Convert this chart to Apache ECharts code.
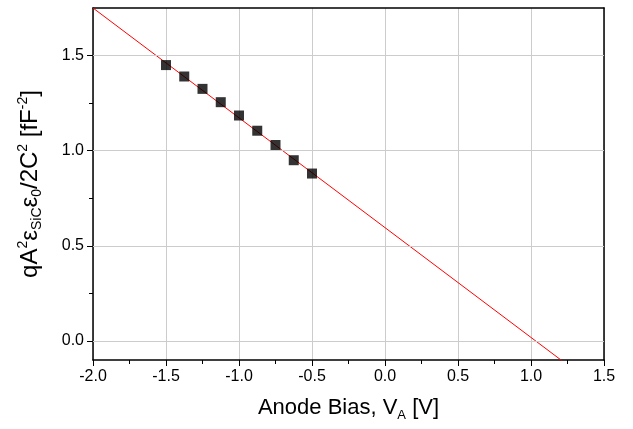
<!DOCTYPE html>
<html>
<head>
<meta charset="utf-8" />
<title>Anode bias plot</title>
<script src="https://cdn.jsdelivr.net/npm/echarts@6/dist/echarts.min.js"></script>
<style>
  html, body { margin: 0; padding: 0; background: #fff; }
  #chart { width: 633px; height: 429px; }
</style>
</head>
<body>
<div id="chart"></div>
<script>
// measured points
var biasV = [-1.5, -1.375, -1.25, -1.125, -1.0, -0.875, -0.75, -0.625, -0.5];
var capVals = [1.45, 1.39, 1.325, 1.255, 1.185, 1.105, 1.03, 0.95, 0.88];
// fitted line end points
var fitX = [-2.0, 1.5];
var fitY = [1.75, -0.27];
var yTicks = [0, 0.5, 1.0, 1.5];
var yMinor = [0.25, 0.75, 1.25];

var font = 'Liberation Sans, Arial, sans-serif';

var scatterData = [];
for (var i = 0; i < biasV.length; i++) scatterData.push([biasV[i], capVals[i]]);
var fitData = [];
for (var j = 0; j < fitX.length; j++) fitData.push([fitX[j], fitY[j]]);
var gridLines = yTicks.map(function (v) { return { yAxis: v }; });

var chart = echarts.init(document.getElementById('chart'));
var option = {
  animation: false,
  backgroundColor: '#fff',
  grid: { left: 93, right: 29, top: 8, bottom: 69, containLabel: false },
  xAxis: [{
    type: 'value', min: -2, max: 1.5, interval: 0.5,
    name: '{n|Anode Bias, V}{sub|A}{n| [V]}',
    nameLocation: 'middle', nameGap: 33,
    nameTextStyle: {
      rich: {
        n: { fontSize: 22, fontFamily: font, color: '#000' },
        sub: { fontSize: 13, fontFamily: font, color: '#000', verticalAlign: 'bottom', padding: [16, 0, 0, 0] }
      }
    },
    axisLine: { onZero: false, lineStyle: { color: '#000', width: 1.5 } },
    axisTick: { inside: false, length: 6, lineStyle: { color: '#000' } },
    minorTick: { show: true, splitNumber: 2, length: 4, lineStyle: { color: '#000' } },
    axisLabel: { color: '#000', fontSize: 16, fontFamily: font, margin: 9,
      formatter: function (v) { return v.toFixed(1); } },
    splitLine: { show: true, lineStyle: { color: '#cccccc', width: 1 } }
  }, {
    type: 'value', position: 'top', min: -2, max: 1.5, interval: 0.5,
    axisLine: { show: true, onZero: false, lineStyle: { color: '#000', width: 1.5 } },
    axisTick: { show: false }, axisLabel: { show: false }, splitLine: { show: false }
  }],
  yAxis: [{
    type: 'value', min: -0.1, max: 1.75,
    name: '{n|qA}{sup|2}{n|ε}{sub|SiC}{n|ε}{sub|0}{n|/2C}{sup|2}{n| [fF}{sup|-2}{n|]}',
    nameLocation: 'middle', nameGap: 49,
    nameTextStyle: {
      rich: {
        n: { fontSize: 24, fontFamily: font, color: '#000' },
        sup: { fontSize: 14, fontFamily: font, color: '#000', verticalAlign: 'top', padding: [0, 0, 12, 0] },
        sub: { fontSize: 14, fontFamily: font, color: '#000', verticalAlign: 'bottom', padding: [14, 0, 0, 0] }
      }
    },
    axisLine: { onZero: false, lineStyle: { color: '#000', width: 1.5 } },
    axisTick: { inside: false, length: 6, lineStyle: { color: '#000' }, customValues: yTicks },
    minorTick: { show: false },
    axisLabel: { color: '#000', fontSize: 16, fontFamily: font, margin: 9,
      customValues: yTicks,
      formatter: function (v) { return v.toFixed(1); } },
    splitLine: { show: false }
  }, {
    type: 'value', position: 'right', min: -0.1, max: 1.75,
    axisLine: { show: true, onZero: false, lineStyle: { color: '#000', width: 1.5 } },
    axisTick: { show: false }, axisLabel: { show: false }, splitLine: { show: false }
  }, {
    // minor ticks for the left axis
    type: 'value', position: 'left', min: -0.1, max: 1.75,
    axisLine: { show: false, onZero: false },
    axisTick: { inside: false, length: 4, lineStyle: { color: '#000' }, customValues: yMinor },
    axisLabel: { show: false, customValues: yMinor },
    splitLine: { show: false }
  }],
  series: [{
    type: 'scatter', data: [], xAxisIndex: 0, yAxisIndex: 0,
    silent: true,
    markLine: {
      silent: true, symbol: 'none', label: { show: false },
      lineStyle: { color: '#cccccc', width: 1, type: 'solid' },
      data: gridLines
    }
  }, {
    type: 'line', data: fitData, xAxisIndex: 0, yAxisIndex: 0,
    symbol: 'none', clip: true,
    lineStyle: { color: '#ff0000', width: 1 }, z: 3
  }, {
    type: 'scatter', data: scatterData, xAxisIndex: 0, yAxisIndex: 0,
    symbol: 'rect', symbolSize: 10,
    itemStyle: { color: '#000' }, z: 4
  }]
};
chart.setOption(option);
</script>
</body>
</html>
